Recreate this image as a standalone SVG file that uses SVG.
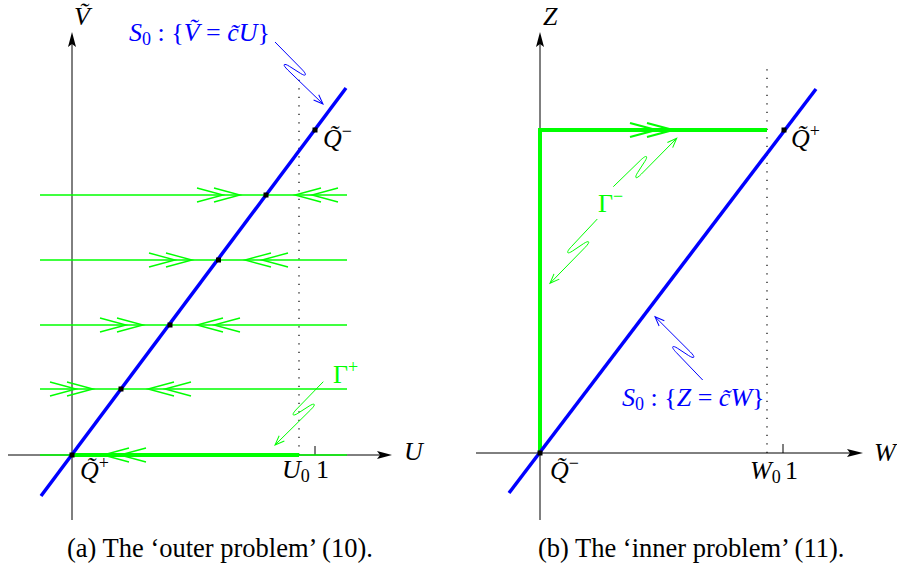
<svg xmlns="http://www.w3.org/2000/svg" width="897" height="569" viewBox="0 0 897 569">
<style>
 .ax{stroke:#000;stroke-width:1;fill:none}
 .head{fill:#000;stroke:none}
 .dot{stroke:#000;stroke-width:1.2;stroke-dasharray:1.2 7.3;fill:none}
 .tick{stroke:#000;stroke-width:1;fill:none}
 .gt{stroke:#00ff00;stroke-width:1.4;fill:none}
 .gk{stroke:#00ff00;stroke-width:4;fill:none;stroke-linejoin:miter}
 .bl{stroke:#0000ff;stroke-width:3.5;fill:none}
 .sqb{stroke:#0000ff;stroke-width:1;fill:none;marker-end:url(#ab)}
 .sqg{stroke:#00ff00;stroke-width:1;fill:none;marker-end:url(#ag)}
 .chev{stroke:#00ff00;stroke-width:1.4;fill:none}
 .chevk{stroke:#00ff00;stroke-width:2.2;fill:none}
 text{font-family:"Liberation Serif","Times New Roman",serif;font-size:26px;fill:#000}
 .it{font-style:italic}
 .up{font-style:normal}
 .sm{font-size:18px;font-style:normal}
 .blue{fill:#0000ff}
 .green{fill:#00ff00}
 .cap{font-size:26.5px}
</style>
<defs>
 <path id="dR" d="M-26,-7 L0,0 L-26,7 M-43,-7 L-17,0 L-43,7"/>
 <path id="dL" d="M26,-7 L0,0 L26,7 M43,-7 L17,0 L43,7"/>
 <rect id="pt" x="-2.5" y="-2.5" width="5" height="5" fill="#000"/>
 <marker id="ab" markerUnits="userSpaceOnUse" markerWidth="12" markerHeight="10" refX="10" refY="5" orient="auto" viewBox="0 0 12 10" overflow="visible"><path d="M0.5,1.3 L10,5 L0.5,8.7" fill="none" stroke="#0000ff" stroke-width="1"/></marker>
 <marker id="ag" markerUnits="userSpaceOnUse" markerWidth="12" markerHeight="10" refX="10" refY="5" orient="auto" viewBox="0 0 12 10" overflow="visible"><path d="M0.5,1.3 L10,5 L0.5,8.7" fill="none" stroke="#00ff00" stroke-width="1"/></marker>
</defs>

<g id="panel-a">
 <g id="axes-a">
  <line class="ax" x1="72" y1="520" x2="72" y2="40"/>
  <path class="head" d="M72,32 L76,47 L72,44 L68,47 Z"/>
  <line class="ax" x1="8" y1="455" x2="385" y2="455"/>
  <path class="head" d="M392,455 L377,451 L380,455 L377,459 Z"/>
  <line class="dot" x1="299" y1="455" x2="299" y2="75"/>
  <line class="tick" x1="315" y1="446" x2="315" y2="455"/>
 </g>
 <g id="connectors-a">
  <line class="gt" x1="40" y1="195" x2="347" y2="195"/>
  <line class="gt" x1="40" y1="260" x2="347" y2="260"/>
  <line class="gt" x1="40" y1="325" x2="347" y2="325"/>
  <line class="gt" x1="40" y1="389" x2="347" y2="389"/>
  <line class="gt" x1="40" y1="455" x2="347" y2="455"/>
  <line class="gk" x1="72" y1="455" x2="299" y2="455"/>
  <use href="#dR" class="chev" x="240" y="195"/>
  <use href="#dL" class="chev" x="295" y="195"/>
  <use href="#dR" class="chev" x="192" y="260"/>
  <use href="#dL" class="chev" x="245" y="260"/>
  <use href="#dR" class="chev" x="143" y="325"/>
  <use href="#dL" class="chev" x="197" y="325"/>
  <use href="#dR" class="chev" x="93" y="389"/>
  <use href="#dL" class="chev" x="148" y="389"/>
  <use href="#dL" class="chev" x="103" y="455"/>
  <line id="S0-a" class="bl" x1="41" y1="496" x2="346" y2="88"/>
  <path class="sqb" d="M275,42 L301.63,69.07 C307.95,75.43 305.58,76.63 300.58,73.43 L289.37,66.29 C284.36,63.09 281.34,63.77 287.82,70.01 L323,104"/>
  <path class="sqg" d="M323.3,381.7 L296.84,408.94 C290.56,415.35 292.93,416.53 297.92,413.29 L309.08,406.08 C314.07,402.85 317.09,403.51 310.66,409.8 L275,445"/>
 </g>
 <g id="points-a">
  <use href="#pt" x="72" y="455"/>
  <use href="#pt" x="121" y="389"/>
  <use href="#pt" x="170" y="325"/>
  <use href="#pt" x="218.5" y="260"/>
  <use href="#pt" x="266" y="195"/>
  <use href="#pt" x="315" y="130"/>
 </g>
 <g id="labels-a">
  <text class="it" x="74" y="25">V&#771;</text>
  <text class="it" x="404" y="460">U</text>
  <text class="it" x="282" y="478">U<tspan class="sm" dy="4">0</tspan></text>
  <text class="up" x="316" y="478">1</text>
  <text class="it" x="80" y="479">Q&#771;<tspan class="sm" dy="-10">+</tspan></text>
  <text class="it" x="323" y="147">Q&#771;<tspan class="sm" dy="-10">−</tspan></text>
  <text class="up green" x="333" y="383">Γ<tspan class="sm" dy="-10">+</tspan></text>
  <text class="it blue" x="129" y="41">S<tspan class="sm" dy="4">0</tspan><tspan class="up" dy="-4"> : {</tspan>V&#771;<tspan class="up"> = </tspan>c&#771;U<tspan class="up">}</tspan></text>
 </g>
 <text class="up cap" x="67" y="557">(a) The ‘outer problem’ (10).</text>
</g>

<g id="panel-b">
 <g id="axes-b">
  <line class="ax" x1="540" y1="520" x2="540" y2="40"/>
  <path class="head" d="M540,32 L544,47 L540,44 L536,47 Z"/>
  <line class="ax" x1="476" y1="453" x2="856" y2="453"/>
  <path class="head" d="M863,453 L847,449 L850,453 L847,457 Z"/>
  <line class="dot" x1="767" y1="453" x2="767" y2="65"/>
  <line class="tick" x1="783" y1="444" x2="783" y2="453"/>
 </g>
 <g id="connectors-b">
  <path id="Gamma-minus" class="gk" d="M540,453 L540,130 L767,130"/>
  <use href="#dR" class="chevk" x="673" y="130"/>
  <line id="S0-b" class="bl" x1="509" y1="493" x2="816" y2="89"/>
  <path class="sqb" d="M702.7,380 L676.41,352.63 C670.18,346.18 672.56,345.02 677.52,348.28 L688.63,355.55 C693.61,358.81 696.62,358.16 690.23,351.85 L655,316.7"/>
  <path class="sqg" d="M613.3,186.7 L640.54,160.24 C646.95,153.96 648.13,156.33 644.89,161.32 L637.68,172.48 C634.45,177.47 635.11,180.49 641.4,174.06 L676.7,138.3"/>
  <path class="sqg" d="M597.3,219 L571.31,246.72 C565.16,253.24 567.54,254.38 572.47,251.05 L583.52,243.65 C588.45,240.31 591.48,240.93 585.15,247.33 L550,283.3"/>
 </g>
 <g id="points-b">
  <use href="#pt" x="540" y="453"/>
  <use href="#pt" x="784" y="130"/>
 </g>
 <g id="labels-b">
  <text class="it" x="543" y="25">Z</text>
  <text class="it" x="874" y="461">W</text>
  <text class="it" x="750" y="479">W<tspan class="sm" dy="4">0</tspan></text>
  <text class="up" x="785" y="479">1</text>
  <text class="it" x="550" y="479">Q&#771;<tspan class="sm" dy="-10">−</tspan></text>
  <text class="it" x="791" y="147">Q&#771;<tspan class="sm" dy="-10">+</tspan></text>
  <text class="up green" x="598" y="212">Γ<tspan class="sm" dy="-10">−</tspan></text>
  <text class="it blue" x="622" y="406">S<tspan class="sm" dy="4">0</tspan><tspan class="up" dy="-4"> : {</tspan>Z<tspan class="up"> = </tspan>c&#771;W<tspan class="up">}</tspan></text>
 </g>
 <text class="up cap" x="538" y="557">(b) The ‘inner problem’ (11).</text>
</g>
</svg>
